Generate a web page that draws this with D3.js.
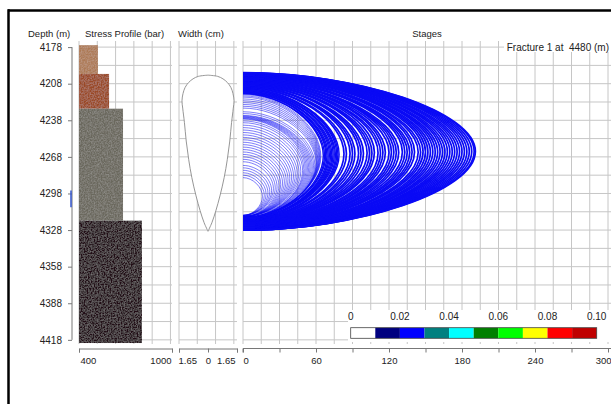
<!DOCTYPE html>
<html lang="en">
<meta charset="utf-8">
<style type="text/css">
  body { margin: 0; background: #fff; }
  svg text { font-family: "Liberation Sans", Arial, sans-serif; fill: #222; }
  .grid line { stroke: #c6c6c6; stroke-width: 1; }
  .axis path, .axis line { stroke: #777; }
</style>
<script src="https://cdn.jsdelivr.net/npm/d3@7"></script>
<body>
<div id="chart"></div>
<script type="text/javascript">
// ---- data ----
var depthTicks = [4178, 4208, 4238, 4268, 4298, 4328, 4358, 4388, 4418];
var depthGrid = [4178, 4193, 4208, 4223, 4238, 4253, 4268, 4283, 4298, 4313, 4328, 4343, 4358, 4373, 4388, 4403, 4418];

// stress profile layers (bar)
var layerTop = [4176.4, 4200, 4228.5, 4320.3];
var layerBottom = [4200, 4228.5, 4320.3, 4420.6];
var layerStress = [522, 594, 684, 806];
var stressGrid = [400, 518, 636, 754, 872, 990];

// width profile: half width (cm) at depth (m)
var widthDepth = [4201, 4202, 4204, 4207, 4211, 4216, 4222, 4228, 4240, 4255, 4270, 4285, 4300, 4312, 4322, 4329];
var widthHalf  = [0, 0.55, 0.85, 1.1, 1.3, 1.42, 1.48, 1.44, 1.34, 1.24, 1.1, 0.92, 0.68, 0.45, 0.22, 0];
var widthGrid = [-1.65, -0.61, 0.43, 1.47];

// perforation interval
var perfTop = 4295.6, perfBottom = 4309.2;

// fracture contours per stage: [length (m), top depth, bottom depth]
var innerStages = [
  [16, 4285, 4316], [17.5, 4283, 4316], [19, 4281, 4316], [20.5, 4279, 4316], [22, 4277, 4316],
  [23.5, 4275, 4316], [25, 4272, 4316], [26.5, 4270, 4316.5], [28, 4268, 4317], [29.5, 4266, 4317],
  [31, 4264, 4317], [32.5, 4262, 4317], [34, 4260, 4317], [35.5, 4258, 4317], [37, 4256, 4317],
  [38.5, 4254, 4317], [40, 4252, 4317], [41.5, 4250, 4317], [43, 4248, 4317], [44.5, 4246, 4317],
  [46, 4244, 4317], [47.5, 4242, 4317.5], [49, 4240, 4318], [50, 4238.5, 4318], [51, 4237, 4318],
  [52, 4236.5, 4318], [53, 4236, 4318], [54, 4235.5, 4318], [55, 4235, 4318], [56, 4234.5, 4318],
  [57, 4234, 4318], [58, 4232.5, 4318], [59, 4231, 4318], [60, 4228, 4318], [60.5, 4226.5, 4318],
  [61, 4225, 4318], [61.5, 4223.5, 4318], [62, 4222, 4318], [62.5, 4220.5, 4318], [63, 4219, 4318],
  [63.5, 4218, 4318], [64, 4217, 4318]
];
var bandStages = [
  [66, 4216, 4318], [67, 4216, 4318], [68, 4215, 4318], [69, 4215, 4319], [70, 4215, 4319],
  [71, 4214, 4319], [72, 4214, 4319], [73, 4214, 4319], [74, 4213, 4319], [75, 4213, 4319],
  [76, 4213, 4320], [77, 4212, 4320], [78, 4212, 4320], [79, 4212, 4320]
];
var outerStages = [
  [83, 4211, 4320], [85, 4211, 4320], [88, 4210, 4320.5], [90, 4210, 4320.5], [92, 4210, 4321],
  [95, 4209, 4321], [97, 4209, 4321], [99, 4209, 4321.5], [102, 4208, 4321.5], [104, 4208, 4322],
  [106, 4208, 4322], [108, 4207, 4322], [111, 4207, 4322.5], [113, 4207, 4322.5], [115, 4206, 4323],
  [117, 4206, 4323], [120, 4206, 4323], [122, 4205, 4323.5], [124, 4205, 4323.5], [126, 4205, 4324],
  [128, 4205, 4324], [131, 4204, 4324], [133, 4204, 4324.5], [135, 4204, 4324.5], [137, 4204, 4325],
  [139, 4203, 4325], [141, 4203, 4325], [144, 4203, 4325.5], [146, 4203, 4325.5], [148, 4202, 4325.5],
  [150, 4202, 4326], [152, 4202, 4326], [154, 4202, 4326], [156, 4201.5, 4326], [158, 4201.5, 4326.5],
  [160, 4201.5, 4326.5], [162, 4201, 4326.5], [164, 4201, 4327], [166, 4201, 4327], [168, 4200.5, 4327],
  [170, 4200.5, 4327], [172, 4200.5, 4327.2], [174, 4200, 4327.4], [176, 4200, 4327.5], [178, 4200, 4327.6],
  [180, 4199.5, 4327.7], [182, 4199.5, 4327.8], [184, 4199.5, 4327.9], [186, 4199.3, 4328], [188, 4199.2, 4328],
  [190, 4199.1, 4328], [191, 4199, 4328]
];
var stageTicks = [0, 30, 60, 90, 120, 150, 180, 210, 240, 270, 300];
var stageGrid = [0, 15, 30, 45, 60, 75, 90, 105, 120, 135, 150, 165, 180, 195, 210, 225, 240, 255, 270, 285, 300];

// colour legend
var legendValues = [0, 0.02, 0.04, 0.06, 0.08, 0.10];
var legendLabels = ["0", "0.02", "0.04", "0.06", "0.08", "0.10"];
var legendColors = ["#ffffff", "#000080", "#0000ff", "#008080", "#00ffff", "#008000", "#00ff00", "#ffff00", "#ff0000", "#c00000"];

var layerColors = ["#ad7a56", "#9a4828", "#6b675d", "#230818"];

// ---- drawing ----
var W = 611, H = 404;
var svg = d3.select("#chart").append("svg")
  .attr("width", W).attr("height", H);

var defs = svg.append("defs");
var f = defs.append("filter").attr("id", "grain")
  .attr("x", 0).attr("y", 0).attr("width", 1).attr("height", 1);
f.append("feTurbulence").attr("type", "fractalNoise").attr("baseFrequency", 0.7)
  .attr("numOctaves", 2).attr("seed", 4).attr("result", "n");
f.append("feColorMatrix").attr("in", "n").attr("type", "matrix")
  .attr("values", "0 0 0 0 1  0 0 0 0 1  0 0 0 0 1  0.3 0 0 0 -0.1").attr("result", "w");
f.append("feComposite").attr("in", "w").attr("in2", "SourceGraphic").attr("operator", "in").attr("result", "wc");
var fm = f.append("feMerge");
fm.append("feMergeNode").attr("in", "SourceGraphic");
fm.append("feMergeNode").attr("in", "wc");

var y = d3.scaleLinear().domain([4173, 4421.4]).range([41, 344]);
var xStress = d3.scaleLinear().domain([400, 1000]).range([79, 172]);
var xWidth = d3.scaleLinear().domain([-1.65, 1.65]).range([179, 237]);
var xStage = d3.scaleLinear().domain([0, 300]).range([243, 608]);
var xLegend = d3.scaleLinear().domain([0, 0.10]).range([350.7, 596.7]);

var gTop = 41, gBot = 344;

// grids
function hGrid(x0, x1) {
  svg.append("g").attr("class", "grid").selectAll("line")
    .data(depthGrid).enter().append("line")
    .attr("x1", x0).attr("x2", x1)
    .attr("y1", (d) => y(d)).attr("y2", (d) => y(d));
}
function vGrid(vals, sc) {
  svg.append("g").attr("class", "grid").selectAll("line")
    .data(vals).enter().append("line")
    .attr("x1", (d) => sc(d)).attr("x2", (d) => sc(d))
    .attr("y1", gTop).attr("y2", gBot);
}
hGrid(79, 172); vGrid(stressGrid, xStress);
hGrid(179, 237); vGrid(widthGrid, xWidth);
hGrid(243, 611); vGrid(stageGrid, xStage);

// stress layers
var layers = layerStress.map((s, i) => ({ s: s, t: layerTop[i], b: layerBottom[i], c: layerColors[i] }));
svg.append("g").selectAll("rect")
  .data(layers).enter().append("rect")
  .attr("x", xStress(400))
  .attr("y", (d) => y(d.t))
  .attr("width", (d) => xStress(d.s) - xStress(400))
  .attr("height", (d) => y(d.b) - y(d.t))
  .attr("fill", (d) => d.c)
  .attr("filter", "url(#grain)");

// width profile
var wdata = widthDepth.map((d, i) => ({ depth: d, hw: widthHalf[i] }));
var area = d3.area()
  .y((d) => y(d.depth))
  .x0((d) => xWidth(-d.hw))
  .x1((d) => xWidth(d.hw))
  .curve(d3.curveCatmullRom);
svg.append("path").datum(wdata)
  .attr("d", area)
  .attr("fill", "#fff")
  .attr("stroke", "#8a8a8a")
  .attr("stroke-width", 0.9);

// fracture contours
function contourPath(s) {
  var x0 = xStage(0), xl = xStage(s[0]), yt = y(s[1]), yb = y(s[2]);
  var ym = (yt + yb) / 2, h = (yb - yt) / 2, cx = x0 + (xl - x0) * 0.5;
  return "M" + x0 + "," + yt + "C" + cx + "," + yt + " " + xl + "," + (ym - h * 0.5) + " " + xl + "," + ym +
    "C" + xl + "," + (ym + h * 0.5) + " " + cx + "," + yb + " " + x0 + "," + yb;
}
function drawStages(list, sw, op) {
  svg.append("g").selectAll("path")
    .data(list).enter().append("path")
    .attr("d", contourPath)
    .attr("fill", "none")
    .attr("stroke", "#0a0af5")
    .attr("stroke-opacity", op)
    .attr("stroke-width", sw);
}
drawStages(innerStages, 0.7, 0.75);
drawStages(bandStages, 1.4, 1);
drawStages(outerStages, 1.7, 1);

// depth axis
var yAxis = svg.append("g").attr("class", "axis")
  .attr("transform", "translate(72,0)")
  .call(d3.axisLeft(y).tickValues(depthTicks).tickSize(4).tickPadding(6).tickSizeOuter(0).tickFormat(d3.format("d")));
yAxis.select(".domain").remove();
yAxis.append("line").attr("x1", 0).attr("x2", 0)
  .attr("y1", y(4178)).attr("y2", y(4418)).attr("stroke", "#777");
yAxis.selectAll("text").attr("font-size", 10).attr("font-family", null);

svg.append("line")
  .attr("x1", 71).attr("x2", 71)
  .attr("y1", y(perfTop)).attr("y2", y(perfBottom))
  .attr("stroke", "#3355cc").attr("stroke-width", 1.5);

// bottom axes
var axY = 348.5;
var aS = svg.append("g").attr("class", "axis").attr("transform", "translate(0," + axY + ")")
  .call(d3.axisBottom(xStress).tickValues([400, 1000]).tickSize(4).tickPadding(5).tickFormat(d3.format("d")));
aS.selectAll("text").attr("font-size", 9.5).attr("font-family", null)
  .attr("text-anchor", (d, i) => i === 0 ? "start" : "end")
  .attr("dx", (d, i) => i === 0 ? 1 : -1);

var aW = svg.append("g").attr("class", "axis").attr("transform", "translate(0," + axY + ")")
  .call(d3.axisBottom(xWidth).tickValues([-1.65, 0, 1.65]).tickSize(4).tickPadding(5)
    .tickFormat((d) => d === 0 ? "0" : d3.format(".2f")(Math.abs(d))));
aW.selectAll("text").attr("font-size", 9.5).attr("font-family", null)
  .attr("text-anchor", (d, i) => i === 0 ? "start" : (i === 2 ? "end" : "middle"))
  .attr("dx", (d, i) => i === 0 ? -1 : (i === 2 ? -2 : 0));

var aG = svg.append("g").attr("class", "axis").attr("transform", "translate(0," + axY + ")")
  .call(d3.axisBottom(xStage).tickValues(stageTicks).tickSize(4).tickPadding(5)
    .tickFormat((d) => d % 60 === 0 ? d : ""));
aG.select(".domain").attr("d", "M" + xStage(0) + ",4V0H611");
aG.selectAll("text").attr("font-size", 9.5).attr("font-family", null)
  .attr("text-anchor", (d) => d === 0 ? "start" : (d === 300 ? "end" : "middle"))
  .attr("dx", (d) => d === 300 ? 3 : 0);

// titles
function title(txt, x, anchor) {
  svg.append("text").attr("x", x).attr("y", 37).attr("font-size", 9.5)
    .attr("text-anchor", anchor).text(txt);
}
title("Depth (m)", 28, "start");
title("Stress Profile (bar)", 85, "start");
title("Width (cm)", 178, "start");
title("Stages", 427, "middle");

svg.append("rect").attr("x", 504).attr("y", 41).attr("width", 107).attr("height", 11).attr("fill", "#fff");
svg.append("text").attr("x", 609).attr("y", 51).attr("font-size", 10)
  .attr("text-anchor", "end").attr("xml:space", "preserve").text("Fracture 1 at  4480 (m)");

// legend
svg.append("rect").attr("x", 348).attr("y", 310).attr("width", 263).attr("height", 32).attr("fill", "#fff");
var step = 0.01;
svg.append("g").selectAll("rect")
  .data(legendColors).enter().append("rect")
  .attr("x", (d, i) => xLegend(i * step))
  .attr("y", 327.7)
  .attr("width", xLegend(step) - xLegend(0))
  .attr("height", 10.6)
  .attr("fill", (d) => d);
svg.append("rect").attr("x", xLegend(0)).attr("y", 327.7)
  .attr("width", xLegend(0.10) - xLegend(0)).attr("height", 10.6)
  .attr("fill", "none").attr("stroke", "#444").attr("stroke-width", 0.8);
svg.append("g").selectAll("text")
  .data(legendValues).enter().append("text")
  .attr("x", (d) => xLegend(d)).attr("y", 320)
  .attr("font-size", 10).attr("text-anchor", "middle")
  .text((d, i) => legendLabels[i]);

// outer frame
svg.append("line").attr("x1", 8).attr("x2", W).attr("y1", 10.5).attr("y2", 10.5)
  .attr("stroke", "#000").attr("stroke-width", 2.5);
svg.append("line").attr("x1", 8.5).attr("x2", 8.5).attr("y1", 9.25).attr("y2", H)
  .attr("stroke", "#000").attr("stroke-width", 2.5);
</script>
</body>
</html>
